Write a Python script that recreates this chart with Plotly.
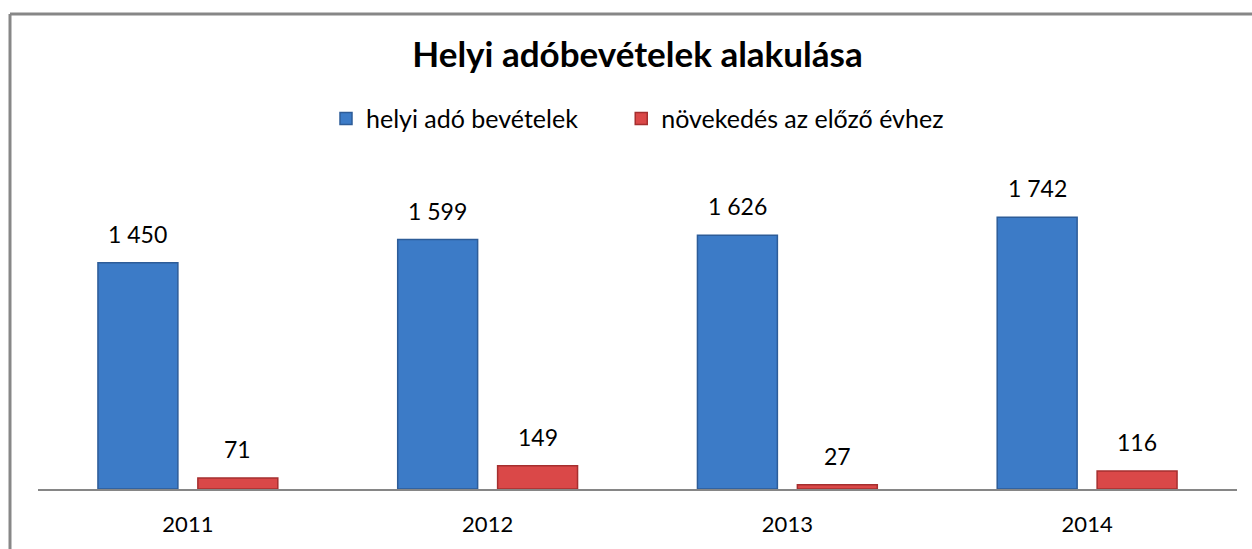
import plotly.graph_objects as go

years = ["2011", "2012", "2013", "2014"]
bevetel = [1450, 1599, 1626, 1742]
novekedes = [71, 149, 27, 116]
series_names = ["helyi adó bevételek", "növekedés az előző évhez"]
title_text = "Helyi adóbevételek alakulása"

FONT = "Lato"
W, H = 1252, 549
ML, MR, MT, MB = 38, 15, 177, 56

fig = go.Figure()
fig.add_trace(go.Bar(
    x=years, y=bevetel, name=series_names[0] + "\u00a0" * 6,
    marker=dict(color="#3C7BC7", line=dict(color="#2D5C98", width=1.5)),
))
fig.add_trace(go.Bar(
    x=years, y=novekedes, name=series_names[1],
    marker=dict(color="#DA4848", line=dict(color="#A52F2F", width=1.5)),
))

plot_w = W - ML - MR
slot = plot_w / len(years) * (2 / 3) / 2
annotations = []
for vals, sh in ((bevetel, -slot / 2), (novekedes, slot / 2)):
    for i, v in enumerate(vals):
        annotations.append(dict(
            x=i, y=v, xref="x", yref="y", xshift=sh, yshift=13,
            text=f"{v:,}".replace(",", " "), showarrow=False,
            yanchor="bottom", font=dict(family=FONT, size=23, color="#000"),
        ))

plot_h = H - MT - MB
border_x0 = (10 - ML) / plot_w
border_y1 = (H - MB - 12) / plot_h
border_x1 = (W + 20 - ML) / plot_w
border_y0 = -(MB + 20) / plot_h
border_line = dict(color="#878787", width=3)

fig.update_layout(
    width=W, height=H,
    margin=dict(l=ML, r=MR, t=MT, b=MB),
    paper_bgcolor="white", plot_bgcolor="white",
    barmode="group", bargap=1 / 3, bargroupgap=0.2,
    title=dict(text=f"<b>{title_text}</b>", x=0.5, xref="paper", xanchor="center",
               y=1 - 55 / H, yanchor="middle",
               font=dict(family=FONT, size=35, color="#000")),
    legend=dict(orientation="h", x=0.5, xanchor="center",
                y=(H - MB - 118) / plot_h, yanchor="middle",
                font=dict(family=FONT, size=25, color="#000"),
                traceorder="normal"),
    xaxis=dict(type="category", range=[-0.5, len(years) - 0.5],
               showline=True, linecolor="#868686", linewidth=2,
               ticks="", showgrid=False, ticklabelstandoff=15,
               tickfont=dict(family=FONT, size=22, color="#000")),
    yaxis=dict(range=[0, 2000], visible=False, showgrid=False),
    annotations=annotations,
    shapes=[
        dict(type="line", xref="paper", yref="paper", x0=border_x0, x1=border_x0,
             y0=border_y0, y1=border_y1, line=border_line, layer="below"),
        dict(type="line", xref="paper", yref="paper", x0=border_x0, x1=border_x1,
             y0=border_y1, y1=border_y1, line=border_line, layer="below"),
    ],
    showlegend=True,
)

fig.write_html(
    "out.html",
    config={"displayModeBar": False},
    post_script=(
        "document.documentElement.style.overflow='hidden';"
        "document.body.style.margin='0';document.body.style.overflow='hidden';"
    ),
)
